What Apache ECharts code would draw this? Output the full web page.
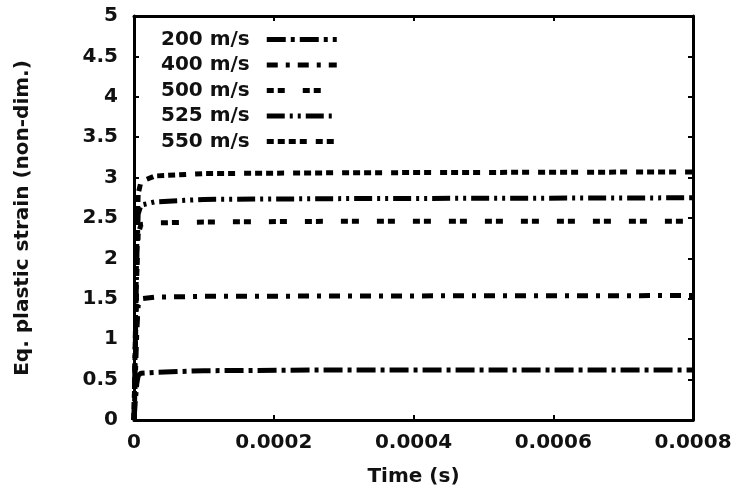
<!DOCTYPE html>
<html>
<head>
<meta charset="utf-8">
<script src="https://cdn.jsdelivr.net/npm/echarts@6/dist/echarts.min.js"></script>
<style>
html,body{margin:0;padding:0;background:#fff;}
#chart{width:740px;height:499px;}
</style>
</head>
<body>
<div id="chart"></div>
<script>
// ---- data ----
var seriesNames = ['200 m/s', '400 m/s', '500 m/s', '525 m/s', '550 m/s'];

var time200   = [0, 0.000002, 0.000004, 0.000006, 0.00001, 0.00003, 0.0001, 0.0003, 0.0008];
var strain200 = [0, 0.25, 0.45, 0.55, 0.58, 0.59, 0.61, 0.62, 0.62];

var time400   = [0, 0.000002, 0.000004, 0.000006, 0.00001, 0.00003, 0.0001, 0.0003, 0.0008];
var strain400 = [0, 0.55, 1.1, 1.42, 1.5, 1.52, 1.53, 1.535, 1.54];

var time500   = [0, 0.000002, 0.000004, 0.000006, 0.00001, 0.00003, 0.0001, 0.0003, 0.0008];
var strain500 = [0, 0.9, 1.8, 2.3, 2.42, 2.44, 2.45, 2.46, 2.46];

var time525   = [0, 0.000002, 0.000004, 0.000006, 0.00001, 0.00003, 0.0001, 0.0003, 0.0008];
var strain525 = [0, 1.0, 2.0, 2.55, 2.66, 2.7, 2.73, 2.74, 2.75];

var time550   = [0, 0.000002, 0.000004, 0.000006, 0.00001, 0.00003, 0.0001, 0.0003, 0.0008];
var strain550 = [0, 1.1, 2.2, 2.8, 2.95, 3.02, 3.05, 3.06, 3.07];

var xTickLabels = ['0', '0.0002', '0.0004', '0.0006', '0.0008'];
var yTickLabels = ['0', '0.5', '1', '1.5', '2', '2.5', '3', '3.5', '4', '4.5', '5'];

// ---- build ----
function zip(t, v) { return t.map(function (x, i) { return [x, v[i]]; }); }
var allTimes = [time200, time400, time500, time525, time550];
var allStrains = [strain200, strain400, strain500, strain525, strain550];
var dashes = [
  [19, 5, 4, 5],
  [11, 8, 4, 8],
  [7, 4, 7, 18],
  [18, 5, 3, 5, 3, 5],
  [7, 4, 7, 4, 7, 4, 7, 9]
];

var FONT = 'DejaVu Sans';
var TXT = '#111';

var series = seriesNames.map(function (name, i) {
  return {
    name: name,
    type: 'line',
    xAxisIndex: 0,
    yAxisIndex: 0,
    showSymbol: false,
    symbol: 'none',
    animation: false,
    data: zip(allTimes[i], allStrains[i]),
    lineStyle: { color: '#000', width: 5, type: dashes[i], cap: 'butt' },
    itemStyle: { color: '#000' }
  };
});

var chart = echarts.init(document.getElementById('chart'), null, { renderer: 'canvas' });
chart.setOption({
  backgroundColor: '#fff',
  animation: false,
  grid: { left: 134, right: 47, top: 16, bottom: 79, containLabel: false },
  legend: {
    orient: 'vertical',
    left: 161,
    top: 28,
    padding: 0,
    align: 'right',
    itemWidth: 70,
    itemHeight: 14,
    itemGap: 2.5,
    itemStyle: { opacity: 0 },
    lineStyle: { width: 5 },
    textStyle: { fontFamily: FONT, fontWeight: 'bold', fontSize: 20, lineHeight: 23, color: TXT, padding: [0, 12, 0, 0] },
    data: seriesNames
  },
  xAxis: [{
    type: 'value', min: 0, max: 0.0008, interval: 0.0002,
    name: 'Time (s)', nameLocation: 'middle', nameGap: 47,
    nameTextStyle: { fontFamily: FONT, fontWeight: 'bold', fontSize: 20, color: TXT },
    axisLine: { show: true, onZero: false, lineStyle: { color: '#000', width: 3 } },
    axisTick: { show: true, inside: true, length: 5, lineStyle: { color: '#000', width: 2 } },
    axisLabel: {
      margin: 13, fontFamily: FONT, fontWeight: 'bold', fontSize: 20, color: TXT,
      formatter: function (v) { return xTickLabels[Math.round(v / 0.0002)]; }
    },
    splitLine: { show: false }
  }, {
    type: 'value', min: 0, max: 0.0008, interval: 0.0002, position: 'top',
    axisLine: { show: true, onZero: false, lineStyle: { color: '#000', width: 3 } },
    axisTick: { show: true, inside: true, length: 5, lineStyle: { color: '#000', width: 2 } },
    axisLabel: { show: false },
    splitLine: { show: false }
  }],
  yAxis: [{
    type: 'value', min: 0, max: 5, interval: 0.5,
    name: 'Eq. plastic strain (non-dim.)', nameLocation: 'middle', nameGap: 101,
    nameTextStyle: { fontFamily: FONT, fontWeight: 'bold', fontSize: 20, color: TXT },
    axisLine: { show: true, onZero: false, lineStyle: { color: '#000', width: 3 } },
    axisTick: { show: true, inside: true, length: 5, lineStyle: { color: '#000', width: 2 } },
    axisLabel: {
      margin: 16, fontFamily: FONT, fontWeight: 'bold', fontSize: 20, color: TXT,
      formatter: function (v) { return yTickLabels[Math.round(v / 0.5)]; }
    },
    splitLine: { show: false }
  }, {
    type: 'value', min: 0, max: 5, interval: 0.5, position: 'right',
    axisLine: { show: true, onZero: false, lineStyle: { color: '#000', width: 3 } },
    axisTick: { show: true, inside: true, length: 5, lineStyle: { color: '#000', width: 2 } },
    axisLabel: { show: false },
    splitLine: { show: false }
  }],
  series: series
});
</script>
</body>
</html>
